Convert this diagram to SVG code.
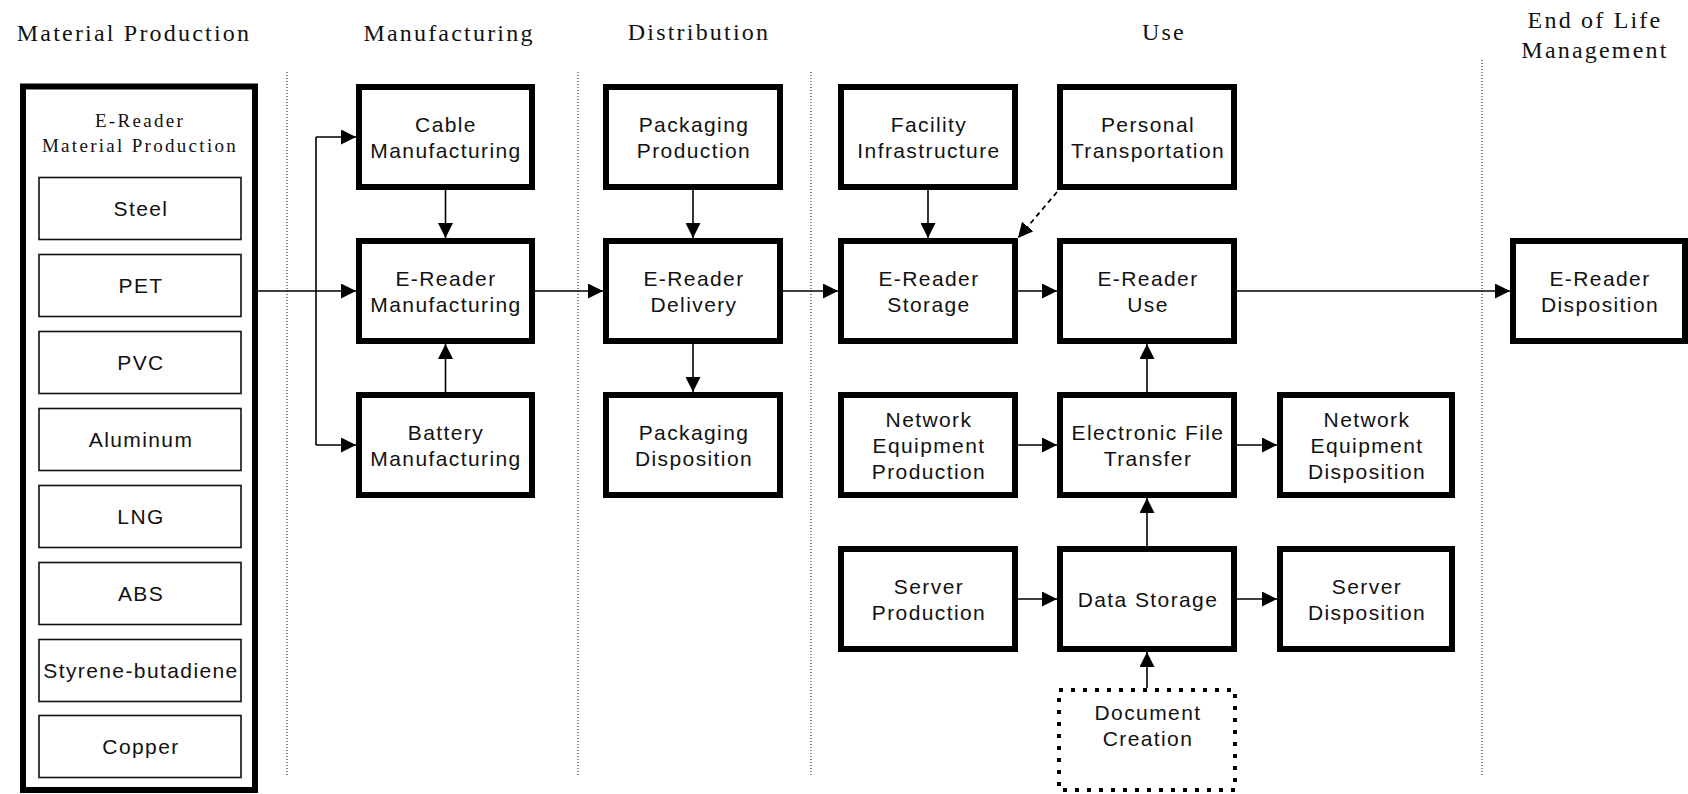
<svg xmlns="http://www.w3.org/2000/svg" width="1688" height="794" viewBox="0 0 1688 794">
<style>
.bg{fill:#fff}
.box{fill:#fff;stroke:#000;stroke-width:6}
.mat{fill:#fff;stroke:#111;stroke-width:1.6}
.dc{fill:#fff;stroke:#000;stroke-width:4;stroke-dasharray:4 8}
.t{font-family:"Liberation Sans",Arial,sans-serif;font-size:21px;letter-spacing:1.4px;fill:#111;text-anchor:middle}
.h{font-family:"Liberation Serif","Times New Roman",serif;font-size:24px;letter-spacing:2.2px;fill:#111;text-anchor:middle}
.hs{font-family:"Liberation Serif","Times New Roman",serif;font-size:19px;letter-spacing:2.3px;fill:#111;text-anchor:middle}
.sep{stroke:#333;stroke-width:1.2;stroke-dasharray:1 2;fill:none}
.c{stroke:#000;stroke-width:1.6;fill:none;marker-end:url(#ah)}
.cd{stroke:#000;stroke-width:1.8;fill:none;stroke-dasharray:5 4;marker-end:url(#ah)}
</style>
<defs>
<marker id="ah" markerUnits="userSpaceOnUse" markerWidth="16" markerHeight="15" refX="15" refY="7.5" orient="auto">
<path d="M0,0 L15,7.5 L0,15 z" fill="#000"/>
</marker>
</defs>
<rect class="bg" x="0" y="0" width="1688" height="794"/>

<g id="headers">
<text class="h" x="134" y="41">Material Production</text>
<text class="h" x="449" y="41">Manufacturing</text>
<text class="h" x="699" y="40">Distribution</text>
<text class="h" x="1164" y="40">Use</text>
<text class="h" x="1595" y="28">End of Life</text>
<text class="h" x="1595" y="58">Management</text>
</g>

<g id="separators">
<line class="sep" x1="287" y1="72" x2="287" y2="775"/>
<line class="sep" x1="578" y1="72" x2="578" y2="775"/>
<line class="sep" x1="811" y1="72" x2="811" y2="775"/>
<line class="sep" x1="1482" y1="60" x2="1482" y2="775"/>
</g>

<g id="material-production">
<rect class="box" x="23" y="86.5" width="232" height="703.5"/>
<text class="hs" x="140" y="127">E-Reader</text>
<text class="hs" x="140" y="152">Material Production</text>
<g id="steel"><rect class="mat" x="39" y="177.5" width="202" height="62"/><text class="t" x="141" y="216">Steel</text></g>
<g id="pet"><rect class="mat" x="39" y="254.5" width="202" height="62"/><text class="t" x="141" y="293">PET</text></g>
<g id="pvc"><rect class="mat" x="39" y="331.5" width="202" height="62"/><text class="t" x="141" y="370">PVC</text></g>
<g id="aluminum"><rect class="mat" x="39" y="408.5" width="202" height="62"/><text class="t" x="141" y="447">Aluminum</text></g>
<g id="lng"><rect class="mat" x="39" y="485.5" width="202" height="62"/><text class="t" x="141" y="524">LNG</text></g>
<g id="abs"><rect class="mat" x="39" y="562.5" width="202" height="62"/><text class="t" x="141" y="601">ABS</text></g>
<g id="styrene"><rect class="mat" x="39" y="639.5" width="202" height="62"/><text class="t" x="141" y="678">Styrene-butadiene</text></g>
<g id="copper"><rect class="mat" x="39" y="715.5" width="202" height="62"/><text class="t" x="141" y="754">Copper</text></g>
</g>

<g id="connectors">
<path class="c" d="M258,291 H356"/>
<path d="M316,291 V137" stroke="#000" stroke-width="1.6" fill="none"/>
<path class="c" d="M316,137 H356"/>
<path d="M316,291 V445" stroke="#000" stroke-width="1.6" fill="none"/>
<path class="c" d="M316,445 H356"/>
<path class="c" d="M445.5,190 V238"/>
<path class="c" d="M445.5,398 V344"/>
<path class="c" d="M535,291 H603"/>
<path class="c" d="M693,190 V238"/>
<path class="c" d="M693,344 V392"/>
<path class="c" d="M783,291 H838"/>
<path class="c" d="M928,190 V238"/>
<path class="cd" d="M1057,192 L1018,238"/>
<path class="c" d="M1018,291 H1057"/>
<path class="c" d="M1237,291 H1510"/>
<path class="c" d="M1018,445 H1057"/>
<path class="c" d="M1147,392 V344"/>
<path class="c" d="M1237,445 H1277"/>
<path class="c" d="M1018,599 H1057"/>
<path class="c" d="M1147,546 V498"/>
<path class="c" d="M1237,599 H1277"/>
<path class="c" d="M1147,688 V652"/>
</g>

<g id="cable-manufacturing"><rect class="box" x="359" y="87" width="173" height="100"/><text class="t" x="446" y="131.5">Cable</text><text class="t" x="446" y="157.5">Manufacturing</text></g>
<g id="ereader-manufacturing"><rect class="box" x="359" y="241" width="173" height="100"/><text class="t" x="446" y="285.5">E-Reader</text><text class="t" x="446" y="311.5">Manufacturing</text></g>
<g id="battery-manufacturing"><rect class="box" x="359" y="395" width="173" height="100"/><text class="t" x="446" y="439.5">Battery</text><text class="t" x="446" y="465.5">Manufacturing</text></g>

<g id="packaging-production"><rect class="box" x="606" y="87" width="174" height="100"/><text class="t" x="694" y="131.5">Packaging</text><text class="t" x="694" y="157.5">Production</text></g>
<g id="ereader-delivery"><rect class="box" x="606" y="241" width="174" height="100"/><text class="t" x="694" y="285.5">E-Reader</text><text class="t" x="694" y="311.5">Delivery</text></g>
<g id="packaging-disposition"><rect class="box" x="606" y="395" width="174" height="100"/><text class="t" x="694" y="439.5">Packaging</text><text class="t" x="694" y="465.5">Disposition</text></g>

<g id="facility-infrastructure"><rect class="box" x="841" y="87" width="174" height="100"/><text class="t" x="929" y="131.5">Facility</text><text class="t" x="929" y="157.5">Infrastructure</text></g>
<g id="ereader-storage"><rect class="box" x="841" y="241" width="174" height="100"/><text class="t" x="929" y="285.5">E-Reader</text><text class="t" x="929" y="311.5">Storage</text></g>
<g id="network-equipment-production"><rect class="box" x="841" y="395" width="174" height="100"/><text class="t" x="929" y="426.5">Network</text><text class="t" x="929" y="452.5">Equipment</text><text class="t" x="929" y="478.5">Production</text></g>
<g id="server-production"><rect class="box" x="841" y="549" width="174" height="100"/><text class="t" x="929" y="593.5">Server</text><text class="t" x="929" y="619.5">Production</text></g>

<g id="personal-transportation"><rect class="box" x="1060" y="87" width="174" height="100"/><text class="t" x="1148" y="131.5">Personal</text><text class="t" x="1148" y="157.5">Transportation</text></g>
<g id="ereader-use"><rect class="box" x="1060" y="241" width="174" height="100"/><text class="t" x="1148" y="285.5">E-Reader</text><text class="t" x="1148" y="311.5">Use</text></g>
<g id="electronic-file-transfer"><rect class="box" x="1060" y="395" width="174" height="100"/><text class="t" x="1148" y="439.5">Electronic File</text><text class="t" x="1148" y="465.5">Transfer</text></g>
<g id="data-storage"><rect class="box" x="1060" y="549" width="174" height="100"/><text class="t" x="1148" y="606.5">Data Storage</text></g>
<g id="document-creation"><rect class="dc" x="1059" y="690" width="176" height="100"/><text class="t" x="1148" y="720">Document</text><text class="t" x="1148" y="746">Creation</text></g>

<g id="network-equipment-disposition"><rect class="box" x="1280" y="395" width="172" height="100"/><text class="t" x="1367" y="426.5">Network</text><text class="t" x="1367" y="452.5">Equipment</text><text class="t" x="1367" y="478.5">Disposition</text></g>
<g id="server-disposition"><rect class="box" x="1280" y="549" width="172" height="100"/><text class="t" x="1367" y="593.5">Server</text><text class="t" x="1367" y="619.5">Disposition</text></g>

<g id="ereader-disposition"><rect class="box" x="1513" y="241" width="172" height="100"/><text class="t" x="1600" y="285.5">E-Reader</text><text class="t" x="1600" y="311.5">Disposition</text></g>
</svg>
